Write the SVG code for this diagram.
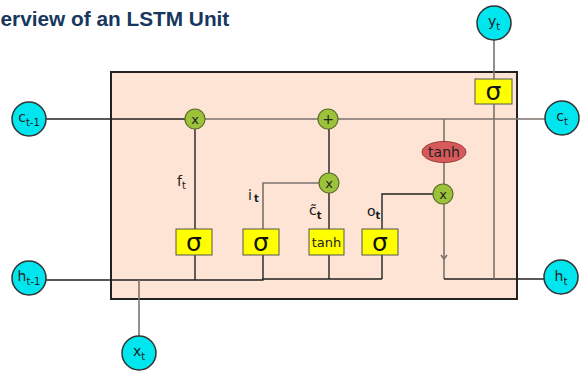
<svg xmlns="http://www.w3.org/2000/svg" width="587" height="372" viewBox="0 0 587 372">
<style>
.t{font-family:"DejaVu Sans",Verdana,sans-serif;fill:#1a1a1a}
.io{fill:#00e6ef;stroke:#333;stroke-width:1.5}
.op{fill:#9cc23a;stroke:#5b6c28;stroke-width:1.2}
.sg{fill:#ffff00;stroke:#555;stroke-width:1}
.k{stroke:#222;stroke-width:1.4;fill:none}
.g{stroke:#7b716c;stroke-width:1.6;fill:none}
.sig{font-family:"DejaVu Sans",Verdana,sans-serif;font-size:25px;fill:#111;text-anchor:middle}
.lbl{font-family:"DejaVu Sans",Verdana,sans-serif;font-size:14px;fill:#222;text-anchor:middle}
.sub{font-size:10px}
</style>
<rect width="587" height="372" fill="#ffffff"/>
<text x="0.5" y="26" style="font-family:'Liberation Sans',Arial,sans-serif;font-weight:bold;font-size:20.8px;fill:#17375e">erview of an LSTM Unit</text>
<rect id="cell" x="111" y="72" width="406" height="227" fill="#fde4d5" stroke="#222" stroke-width="2"/>
<g id="connectors">
<path class="k" d="M46 119H185"/>
<path class="g" d="M205 119H318"/>
<path class="g" d="M338 119H545"/>
<path class="k" d="M195 129V229"/>
<path class="k" d="M46 280H263V279H382"/>
<path class="k" d="M195 255V280"/>
<path class="k" d="M263 255V279"/>
<path class="k" d="M329 255V279"/>
<path class="k" d="M382 255V279"/>
<path class="g" d="M139 280V336"/>
<path class="g" d="M263 229V183H319"/>
<path class="k" d="M329 229V193"/>
<path class="k" d="M329 173V129"/>
<path class="k" d="M382 229V194H433"/>
<path class="g" d="M444 119V142"/>
<path class="g" d="M444 162V184"/>
<path class="g" d="M444 204V279"/>
<path class="g" d="M441 255L444 259L447 255"/>
<path class="k" d="M444 279H544"/>
<path class="g" d="M494 40V79"/>
<path class="g" d="M494 104V279"/>
</g>
<g id="c_prev"><circle class="io" cx="29" cy="119" r="17"/><text class="lbl" x="29" y="122">c<tspan class="sub" dy="4">t-1</tspan></text></g>
<g id="h_prev"><circle class="io" cx="29" cy="278" r="17"/><text class="lbl" x="29" y="281">h<tspan class="sub" dy="4">t-1</tspan></text></g>
<g id="x_t"><circle class="io" cx="139" cy="353" r="17"/><text class="lbl" x="139" y="356">x<tspan class="sub" dy="4">t</tspan></text></g>
<g id="y_t"><circle class="io" cx="494" cy="23" r="17"/><text class="lbl" x="494" y="26">y<tspan class="sub" dy="4">t</tspan></text></g>
<g id="c_t"><circle class="io" cx="562" cy="118" r="17"/><text class="lbl" x="562" y="121">c<tspan class="sub" dy="4">t</tspan></text></g>
<g id="h_t"><circle class="io" cx="561" cy="277" r="17"/><text class="lbl" x="561" y="281">h<tspan class="sub" dy="4">t</tspan></text></g>
<g id="forget_mul"><circle class="op" cx="195" cy="119" r="10"/><text class="lbl" x="195" y="124" style="font-size:13px">x</text></g>
<g id="add"><circle class="op" cx="328" cy="119" r="10"/><text class="lbl" x="328" y="124" style="font-size:14px">+</text></g>
<g id="input_mul"><circle class="op" cx="329" cy="183" r="10"/><text class="lbl" x="329" y="188" style="font-size:13px">x</text></g>
<g id="output_mul"><circle class="op" cx="443" cy="194" r="10"/><text class="lbl" x="443" y="199" style="font-size:13px">x</text></g>
<g id="tanh_out"><ellipse cx="444" cy="152" rx="22" ry="10.5" fill="#d65a5a" stroke="#9a3a3a" stroke-width="1"/><text class="lbl" x="444" y="157" style="font-size:14px">tanh</text></g>
<g id="sigma_f"><rect class="sg" x="176" y="229" width="36" height="26"/><text class="sig" x="194" y="251">σ</text></g>
<g id="sigma_i"><rect class="sg" x="243" y="229" width="36" height="26"/><text class="sig" x="261" y="251">σ</text></g>
<g id="tanh_c"><rect class="sg" x="309" y="229" width="35" height="26"/><text class="lbl" x="326.5" y="247" style="font-size:13px">tanh</text></g>
<g id="sigma_o"><rect class="sg" x="362" y="229" width="36" height="26"/><text class="sig" x="380" y="251">σ</text></g>
<g id="sigma_y"><rect class="sg" x="475" y="79" width="37" height="25"/><text class="sig" x="493.5" y="100">σ</text></g>
<text class="t" x="177" y="186" style="font-size:14px">f<tspan class="sub" dy="3">t</tspan></text>
<text class="t" x="248" y="200" style="font-size:14px">i<tspan dx="2" dy="2" style="font-size:10px;font-weight:bold">t</tspan></text>
<text class="t" x="309" y="215" style="font-size:14px">c̃<tspan class="sub" dy="4" style="font-weight:bold">t</tspan></text>
<text class="t" x="367" y="216" style="font-size:14px">o<tspan dy="3" style="font-size:10px;font-weight:bold">t</tspan></text>
</svg>
